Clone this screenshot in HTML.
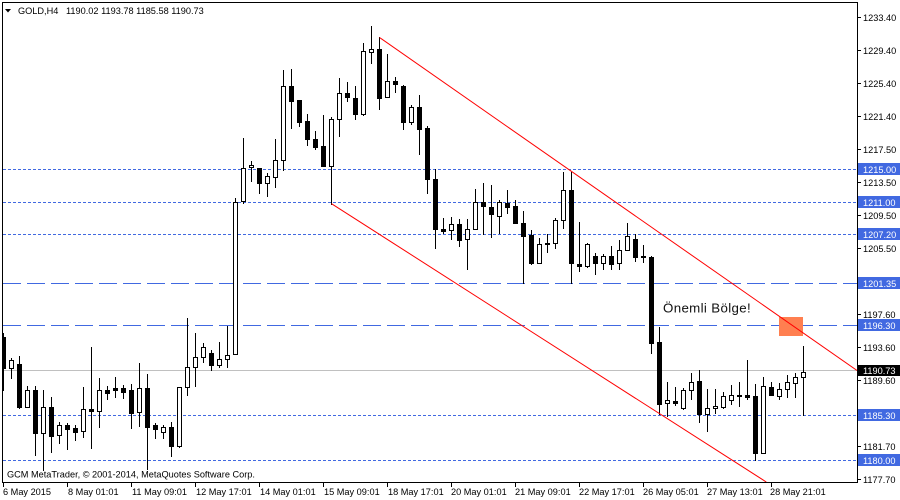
<!DOCTYPE html>
<html>
<head>
<meta charset="utf-8">
<style>
html,body{margin:0;padding:0;background:#fff;width:900px;height:500px;overflow:hidden;}
svg{display:block;}
text{font-family:"Liberation Sans",Arial,sans-serif;font-size:9.2px;fill:#000;}
</style>
</head>
<body>
<svg width="900" height="500" viewBox="0 0 900 500" xmlns="http://www.w3.org/2000/svg">
<defs>
<clipPath id="plot"><rect x="3" y="3" width="854" height="479"/></clipPath>
</defs>
<rect x="0" y="0" width="900" height="500" fill="#fff"/>

<g clip-path="url(#plot)">
  <g stroke="#4169E1" stroke-width="1" stroke-dasharray="3,2" shape-rendering="crispEdges">
    <line x1="3" y1="169.5" x2="857" y2="169.5"/>
    <line x1="3" y1="202.5" x2="857" y2="202.5"/>
    <line x1="3" y1="234.5" x2="857" y2="234.5"/>
    <line x1="3" y1="415.5" x2="857" y2="415.5"/>
    <line x1="3" y1="460.5" x2="857" y2="460.5"/>
  </g>
  <g stroke="#4169E1" stroke-width="1" stroke-dasharray="18,6" shape-rendering="crispEdges">
    <line x1="3" y1="283.5" x2="857" y2="283.5"/>
    <line x1="3" y1="325.5" x2="857" y2="325.5"/>
  </g>
  <line x1="3" y1="370.5" x2="857" y2="370.5" stroke="#C0C0C0" stroke-width="1" shape-rendering="crispEdges"/>

  <rect x="779" y="317" width="24" height="19" fill="#FF7F50"/>

  <g fill="#000" shape-rendering="crispEdges">
    <rect x="3" y="333" width="1" height="58"/>
    <rect x="11" y="358" width="1" height="21"/>
    <rect x="19" y="356" width="1" height="53"/>
    <rect x="27" y="386" width="1" height="22"/>
    <rect x="35" y="386" width="1" height="70"/>
    <rect x="43" y="390" width="1" height="81"/>
    <rect x="51" y="397" width="1" height="56"/>
    <rect x="59" y="422" width="1" height="22"/>
    <rect x="67" y="423" width="1" height="27"/>
    <rect x="75" y="425" width="1" height="16"/>
    <rect x="83" y="387" width="1" height="51"/>
    <rect x="91" y="347" width="1" height="102"/>
    <rect x="99" y="378" width="1" height="50"/>
    <rect x="107" y="386" width="1" height="14"/>
    <rect x="115" y="377" width="1" height="21"/>
    <rect x="123" y="385" width="1" height="14"/>
    <rect x="131" y="384" width="1" height="45"/>
    <rect x="139" y="363" width="1" height="64"/>
    <rect x="147" y="374" width="1" height="96"/>
    <rect x="155" y="423" width="1" height="16"/>
    <rect x="163" y="425" width="1" height="14"/>
    <rect x="171" y="422" width="1" height="35"/>
    <rect x="179" y="387" width="1" height="61"/>
    <rect x="187" y="318" width="1" height="78"/>
    <rect x="195" y="333" width="1" height="54"/>
    <rect x="203" y="343" width="1" height="20"/>
    <rect x="211" y="350" width="1" height="21"/>
    <rect x="219" y="342" width="1" height="26"/>
    <rect x="227" y="326" width="1" height="42"/>
    <rect x="235" y="198" width="1" height="157"/>
    <rect x="243" y="138" width="1" height="66"/>
    <rect x="251" y="161" width="1" height="21"/>
    <rect x="259" y="168" width="1" height="26"/>
    <rect x="267" y="173" width="1" height="24"/>
    <rect x="275" y="139" width="1" height="49"/>
    <rect x="283" y="70" width="1" height="101"/>
    <rect x="291" y="69" width="1" height="60"/>
    <rect x="299" y="100" width="1" height="27"/>
    <rect x="307" y="114" width="1" height="32"/>
    <rect x="315" y="131" width="1" height="19"/>
    <rect x="323" y="115" width="1" height="52"/>
    <rect x="331" y="117" width="1" height="88"/>
    <rect x="339" y="78" width="1" height="59"/>
    <rect x="347" y="82" width="1" height="20"/>
    <rect x="355" y="86" width="1" height="34"/>
    <rect x="363" y="43" width="1" height="73"/>
    <rect x="371" y="26" width="1" height="38"/>
    <rect x="379" y="37" width="1" height="73"/>
    <rect x="387" y="54" width="1" height="44"/>
    <rect x="395" y="77" width="1" height="16"/>
    <rect x="403" y="85" width="1" height="45"/>
    <rect x="411" y="105" width="1" height="20"/>
    <rect x="419" y="95" width="1" height="60"/>
    <rect x="427" y="126" width="1" height="68"/>
    <rect x="435" y="169" width="1" height="80"/>
    <rect x="443" y="218" width="1" height="16"/>
    <rect x="451" y="217" width="1" height="23"/>
    <rect x="459" y="219" width="1" height="28"/>
    <rect x="467" y="219" width="1" height="51"/>
    <rect x="475" y="189" width="1" height="41"/>
    <rect x="483" y="183" width="1" height="52"/>
    <rect x="491" y="185" width="1" height="53"/>
    <rect x="499" y="200" width="1" height="34"/>
    <rect x="507" y="190" width="1" height="24"/>
    <rect x="515" y="200" width="1" height="24"/>
    <rect x="523" y="211" width="1" height="73"/>
    <rect x="531" y="230" width="1" height="35"/>
    <rect x="539" y="238" width="1" height="26"/>
    <rect x="547" y="234" width="1" height="19"/>
    <rect x="555" y="218" width="1" height="31"/>
    <rect x="563" y="172" width="1" height="57"/>
    <rect x="571" y="172" width="1" height="112"/>
    <rect x="579" y="222" width="1" height="50"/>
    <rect x="587" y="243" width="1" height="25"/>
    <rect x="595" y="253" width="1" height="22"/>
    <rect x="603" y="254" width="1" height="16"/>
    <rect x="611" y="246" width="1" height="24"/>
    <rect x="619" y="240" width="1" height="30"/>
    <rect x="627" y="223" width="1" height="28"/>
    <rect x="635" y="234" width="1" height="28"/>
    <rect x="643" y="245" width="1" height="18"/>
    <rect x="651" y="256" width="1" height="98"/>
    <rect x="659" y="327" width="1" height="88"/>
    <rect x="667" y="382" width="1" height="35"/>
    <rect x="675" y="387" width="1" height="19"/>
    <rect x="683" y="388" width="1" height="22"/>
    <rect x="691" y="373" width="1" height="27"/>
    <rect x="699" y="370" width="1" height="53"/>
    <rect x="707" y="389" width="1" height="43"/>
    <rect x="715" y="389" width="1" height="25"/>
    <rect x="723" y="392" width="1" height="17"/>
    <rect x="731" y="385" width="1" height="20"/>
    <rect x="739" y="382" width="1" height="25"/>
    <rect x="747" y="360" width="1" height="40"/>
    <rect x="755" y="384" width="1" height="77"/>
    <rect x="763" y="377" width="1" height="77"/>
    <rect x="771" y="382" width="1" height="14"/>
    <rect x="779" y="383" width="1" height="17"/>
    <rect x="787" y="375" width="1" height="23"/>
    <rect x="795" y="373" width="1" height="25"/>
    <rect x="803" y="346" width="1" height="70"/>
  </g>

  <g fill="#000" shape-rendering="crispEdges">
    <rect x="3" y="337" width="3" height="32"/>
    <rect x="17" y="364" width="5" height="44"/>
    <rect x="33" y="390" width="5" height="44"/>
    <rect x="49" y="407" width="5" height="30"/>
    <rect x="65" y="425" width="5" height="5"/>
    <rect x="73" y="428" width="5" height="5"/>
    <rect x="89" y="409" width="5" height="3"/>
    <rect x="105" y="390" width="5" height="4"/>
    <rect x="113" y="388" width="5" height="3"/>
    <rect x="121" y="388" width="5" height="5"/>
    <rect x="129" y="390" width="5" height="24"/>
    <rect x="145" y="388" width="5" height="40"/>
    <rect x="153" y="425" width="5" height="5"/>
    <rect x="169" y="427" width="5" height="20"/>
    <rect x="209" y="353" width="5" height="13"/>
    <rect x="257" y="168" width="5" height="16"/>
    <rect x="289" y="86" width="5" height="16"/>
    <rect x="297" y="100" width="5" height="23"/>
    <rect x="305" y="121" width="5" height="19"/>
    <rect x="313" y="139" width="5" height="9"/>
    <rect x="321" y="146" width="5" height="21"/>
    <rect x="345" y="93" width="5" height="5"/>
    <rect x="353" y="98" width="5" height="17"/>
    <rect x="377" y="49" width="5" height="50"/>
    <rect x="393" y="81" width="5" height="4"/>
    <rect x="401" y="86" width="5" height="37"/>
    <rect x="417" y="107" width="5" height="23"/>
    <rect x="425" y="128" width="5" height="52"/>
    <rect x="433" y="179" width="5" height="51"/>
    <rect x="441" y="229" width="5" height="3"/>
    <rect x="457" y="224" width="5" height="17"/>
    <rect x="481" y="202" width="5" height="5"/>
    <rect x="489" y="207" width="5" height="8"/>
    <rect x="505" y="203" width="5" height="5"/>
    <rect x="513" y="206" width="5" height="18"/>
    <rect x="521" y="223" width="5" height="14"/>
    <rect x="529" y="235" width="5" height="29"/>
    <rect x="545" y="243" width="5" height="2"/>
    <rect x="569" y="190" width="5" height="74"/>
    <rect x="577" y="264" width="5" height="3"/>
    <rect x="593" y="256" width="5" height="8"/>
    <rect x="609" y="256" width="5" height="9"/>
    <rect x="633" y="239" width="5" height="19"/>
    <rect x="641" y="256" width="5" height="2"/>
    <rect x="649" y="257" width="5" height="87"/>
    <rect x="657" y="342" width="5" height="63"/>
    <rect x="673" y="401" width="5" height="3"/>
    <rect x="697" y="381" width="5" height="34"/>
    <rect x="745" y="395" width="5" height="3"/>
    <rect x="753" y="396" width="5" height="58"/>
    <rect x="769" y="387" width="5" height="9"/>
  </g>

  <g fill="#fff" stroke="#000" stroke-width="1" shape-rendering="crispEdges">
    <rect x="9.5" y="360.5" width="4" height="8"/>
    <rect x="25.5" y="390.5" width="4" height="17"/>
    <rect x="41.5" y="407.5" width="4" height="26"/>
    <rect x="57.5" y="425.5" width="4" height="10"/>
    <rect x="81.5" y="409.5" width="4" height="22"/>
    <rect x="97.5" y="390.5" width="4" height="21"/>
    <rect x="137.5" y="388.5" width="4" height="24"/>
    <rect x="161.5" y="427.5" width="4" height="5"/>
    <rect x="177.5" y="387.5" width="4" height="59"/>
    <rect x="185.5" y="367.5" width="4" height="20"/>
    <rect x="193.5" y="357.5" width="4" height="10"/>
    <rect x="201.5" y="347.5" width="4" height="10"/>
    <rect x="217.5" y="359.5" width="4" height="6"/>
    <rect x="225.5" y="355.5" width="4" height="4"/>
    <rect x="233.5" y="202.5" width="4" height="152"/>
    <rect x="241.5" y="168.5" width="4" height="33"/>
    <rect x="249.5" y="165.5" width="4" height="2"/>
    <rect x="265.5" y="176.5" width="4" height="7"/>
    <rect x="273.5" y="160.5" width="4" height="17"/>
    <rect x="281.5" y="86.5" width="4" height="74"/>
    <rect x="329.5" y="119.5" width="4" height="47"/>
    <rect x="337.5" y="93.5" width="4" height="26"/>
    <rect x="361.5" y="51.5" width="4" height="63"/>
    <rect x="369.5" y="49.5" width="4" height="3"/>
    <rect x="385.5" y="81.5" width="4" height="16"/>
    <rect x="409.5" y="107.5" width="4" height="15"/>
    <rect x="449.5" y="224.5" width="4" height="6"/>
    <rect x="465.5" y="229.5" width="4" height="10"/>
    <rect x="473.5" y="202.5" width="4" height="27"/>
    <rect x="497.5" y="202.5" width="4" height="14"/>
    <rect x="537.5" y="244.5" width="4" height="19"/>
    <rect x="553.5" y="220.5" width="4" height="23"/>
    <rect x="561.5" y="190.5" width="4" height="30"/>
    <rect x="585.5" y="244.5" width="4" height="22"/>
    <rect x="601.5" y="256.5" width="4" height="7"/>
    <rect x="617.5" y="250.5" width="4" height="13"/>
    <rect x="625.5" y="236.5" width="4" height="14"/>
    <rect x="665.5" y="400.5" width="4" height="3"/>
    <rect x="681.5" y="390.5" width="4" height="18"/>
    <rect x="689.5" y="382.5" width="4" height="8"/>
    <rect x="705.5" y="408.5" width="4" height="6"/>
    <rect x="713.5" y="406.5" width="4" height="2"/>
    <rect x="721.5" y="396.5" width="4" height="11"/>
    <rect x="729.5" y="395.5" width="4" height="5"/>
    <rect x="737.5" y="395.5" width="4" height="1"/>
    <rect x="761.5" y="386.5" width="4" height="67"/>
    <rect x="777.5" y="389.5" width="4" height="7"/>
    <rect x="785.5" y="382.5" width="4" height="7"/>
    <rect x="793.5" y="377.5" width="4" height="6"/>
    <rect x="801.5" y="372.5" width="4" height="5"/>
  </g>

  <g stroke="#FF0000" stroke-width="1" fill="none">
    <line x1="379.5" y1="37.5" x2="857" y2="370.5"/>
    <line x1="331.5" y1="203.7" x2="766.3" y2="482"/>
  </g>

  <text x="663" y="312.7" style="font-size:13.3px;letter-spacing:0.35px;fill:#111;">Önemli Bölge!</text>
</g>

<rect x="2.5" y="2.5" width="855" height="480" fill="none" stroke="#000" stroke-width="1" shape-rendering="crispEdges"/>

<polygon points="5,9 11,9 8,12.5" fill="#000"/>
<text x="18" y="14">GOLD,H4</text>
<text x="66" y="14">1190.02 1193.78 1185.58 1190.73</text>

<text x="7" y="477.5">GCM MetaTrader, © 2001-2014, MetaQuotes Software Corp.</text>

<g stroke="#000" stroke-width="1" shape-rendering="crispEdges">
  <line x1="858" y1="17.5" x2="861" y2="17.5"/>
  <line x1="858" y1="50.5" x2="861" y2="50.5"/>
  <line x1="858" y1="83.5" x2="861" y2="83.5"/>
  <line x1="858" y1="116.5" x2="861" y2="116.5"/>
  <line x1="858" y1="149.5" x2="861" y2="149.5"/>
  <line x1="858" y1="182.5" x2="861" y2="182.5"/>
  <line x1="858" y1="215.5" x2="861" y2="215.5"/>
  <line x1="858" y1="248.5" x2="861" y2="248.5"/>
  <line x1="858" y1="281.5" x2="861" y2="281.5"/>
  <line x1="858" y1="314.5" x2="861" y2="314.5"/>
  <line x1="858" y1="347.5" x2="861" y2="347.5"/>
  <line x1="858" y1="380.5" x2="861" y2="380.5"/>
  <line x1="858" y1="413.5" x2="861" y2="413.5"/>
  <line x1="858" y1="446.5" x2="861" y2="446.5"/>
  <line x1="858" y1="479.5" x2="861" y2="479.5"/>
</g>
<g>
  <text x="863" y="21">1233.40</text>
  <text x="863" y="54">1229.40</text>
  <text x="863" y="87">1225.40</text>
  <text x="863" y="120">1221.40</text>
  <text x="863" y="153">1217.50</text>
  <text x="863" y="186">1213.50</text>
  <text x="863" y="219">1209.50</text>
  <text x="863" y="252">1205.50</text>
  <text x="863" y="285">1201.50</text>
  <text x="863" y="318">1197.60</text>
  <text x="863" y="351">1193.60</text>
  <text x="863" y="384">1189.60</text>
  <text x="863" y="417">1185.60</text>
  <text x="863" y="450">1181.70</text>
  <text x="863" y="483">1177.70</text>
</g>

<g fill="#4169E1" shape-rendering="crispEdges">
  <rect x="858" y="163" width="42" height="12"/>
  <rect x="858" y="196" width="42" height="12"/>
  <rect x="858" y="228" width="42" height="12"/>
  <rect x="858" y="277" width="42" height="12"/>
  <rect x="858" y="319" width="42" height="12"/>
  <rect x="858" y="409" width="42" height="12"/>
  <rect x="858" y="454" width="42" height="12"/>
</g>
<rect x="858" y="365" width="42" height="11" fill="#000" shape-rendering="crispEdges"/>
<g>
  <text x="863" y="173" style="fill:#fff">1215.00</text>
  <text x="863" y="206" style="fill:#fff">1211.00</text>
  <text x="863" y="238" style="fill:#fff">1207.20</text>
  <text x="863" y="287" style="fill:#fff">1201.35</text>
  <text x="863" y="329" style="fill:#fff">1196.30</text>
  <text x="863" y="374" style="fill:#fff">1190.73</text>
  <text x="863" y="419" style="fill:#fff">1185.30</text>
  <text x="863" y="464" style="fill:#fff">1180.00</text>
</g>

<g stroke="#000" stroke-width="1" shape-rendering="crispEdges">
  <line x1="3.5" y1="483" x2="3.5" y2="487"/>
  <line x1="67.5" y1="483" x2="67.5" y2="487"/>
  <line x1="131.5" y1="483" x2="131.5" y2="487"/>
  <line x1="195.5" y1="483" x2="195.5" y2="487"/>
  <line x1="259.5" y1="483" x2="259.5" y2="487"/>
  <line x1="323.5" y1="483" x2="323.5" y2="487"/>
  <line x1="387.5" y1="483" x2="387.5" y2="487"/>
  <line x1="451.5" y1="483" x2="451.5" y2="487"/>
  <line x1="515.5" y1="483" x2="515.5" y2="487"/>
  <line x1="579.5" y1="483" x2="579.5" y2="487"/>
  <line x1="643.5" y1="483" x2="643.5" y2="487"/>
  <line x1="707.5" y1="483" x2="707.5" y2="487"/>
  <line x1="771.5" y1="483" x2="771.5" y2="487"/>
</g>
<g>
  <text x="3" y="495">6 May 2015</text>
  <text x="68" y="495">8 May 01:01</text>
  <text x="132" y="495">11 May 09:01</text>
  <text x="196" y="495">12 May 17:01</text>
  <text x="260" y="495">14 May 01:01</text>
  <text x="324" y="495">15 May 09:01</text>
  <text x="388" y="495">18 May 17:01</text>
  <text x="451" y="495">20 May 01:01</text>
  <text x="515" y="495">21 May 09:01</text>
  <text x="579" y="495">22 May 17:01</text>
  <text x="643" y="495">26 May 05:01</text>
  <text x="707" y="495">27 May 13:01</text>
  <text x="770" y="495">28 May 21:01</text>
</g>
</svg>
</body>
</html>
